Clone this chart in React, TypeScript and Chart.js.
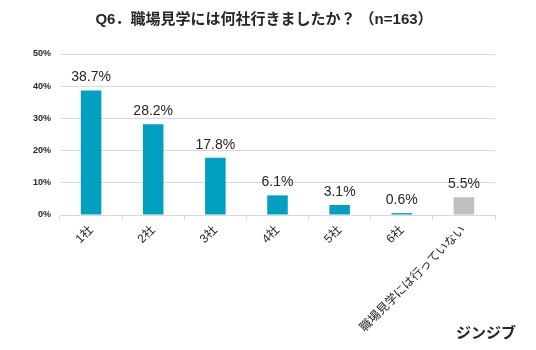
import React, { useEffect, useRef } from "react";
import { Chart, registerables } from "chart.js";

Chart.register(...registerables);

const titleText = "Q6．職場見学には何社行きましたか？ （n=163）";
const categories = ["1社", "2社", "3社", "4社", "5社", "6社", "職場見学には行っていない"];
const values = [38.7, 28.2, 17.8, 6.1, 3.1, 0.6, 5.5];
const valueLabels = ["38.7%", "28.2%", "17.8%", "6.1%", "3.1%", "0.6%", "5.5%"];
const barColors = ["#00A0C1", "#00A0C1", "#00A0C1", "#00A0C1", "#00A0C1", "#00A0C1", "#BFBFBF"];
const yMin = 0;
const yMax = 50;
const yStep = 10;
const watermark = "ジンジブ";

const FONT = "'Liberation Sans', Arial, 'Noto Sans CJK JP', sans-serif";

const labelPlugin = {
  id: "valueLabels",
  afterDatasetsDraw(chart: any) {
    const ctx = chart.ctx;
    const meta = chart.getDatasetMeta(0);
    ctx.save();
    ctx.font = `14px ${FONT}`;
    ctx.fillStyle = "#262626";
    ctx.textAlign = "center";
    ctx.textBaseline = "alphabetic";
    meta.data.forEach((bar: any, i: number) => {
      ctx.fillText(valueLabels[i], bar.x, bar.y - 9);
    });
    ctx.restore();
  },
  afterDraw(chart: any) {
    const ctx = chart.ctx;
    ctx.save();
    ctx.font = `bold 15px ${FONT}`;
    ctx.fillStyle = "#262626";
    ctx.textAlign = "center";
    ctx.textBaseline = "middle";
    ctx.fillText(titleText, chart.width / 2 - 4, 20);
    ctx.textAlign = "right";
    ctx.fillText(watermark, 516, 334);
    ctx.restore();
  },
};

export default function App() {
  const ref = useRef<HTMLCanvasElement | null>(null);
  useEffect(() => {
    if (!ref.current) return;
    const chart = new Chart(ref.current, {
      type: "bar",
      data: {
        labels: categories,
        datasets: [
          {
            data: values,
            backgroundColor: barColors,
            barPercentage: 0.33,
            categoryPercentage: 1,
          },
        ],
      },
      options: {
        animation: false,
        responsive: true,
        maintainAspectRatio: false,
        layout: { padding: { left: 0, right: 41, top: 54, bottom: 0 } },
        plugins: {
          legend: { display: false },
          tooltip: { enabled: false },
          title: { display: false },
        },
        scales: {
          x: {
            grid: {
              display: true,
              drawOnChartArea: false,
              offset: true,
              tickLength: 5,
              color: "#D9D9D9",
            },
            border: { display: true, color: "#D9D9D9" },
            ticks: {
              minRotation: 45,
              maxRotation: 45,
              autoSkip: false,
              color: "#262626",
              padding: 3,
              font: { family: FONT, size: 12 },
            },
            afterFit(scale: any) {
              scale.height = 135;
            },
          },
          y: {
            min: yMin,
            max: yMax,
            ticks: {
              stepSize: yStep,
              color: "#262626",
              padding: 9,
              font: { family: FONT, size: 9, weight: "bold" },
              callback: (v: any) => `${v}%`,
            },
            grid: { color: "#D9D9D9", drawTicks: false },
            border: { display: false },
            afterFit(scale: any) {
              scale.width = 60;
            },
          },
        },
      },
      plugins: [labelPlugin],
    });
    return () => chart.destroy();
  }, []);
  return (
    <div style={{ position: "absolute", left: 0, top: 0, width: 536, height: 350 }}>
      <canvas ref={ref} />
    </div>
  );
}
